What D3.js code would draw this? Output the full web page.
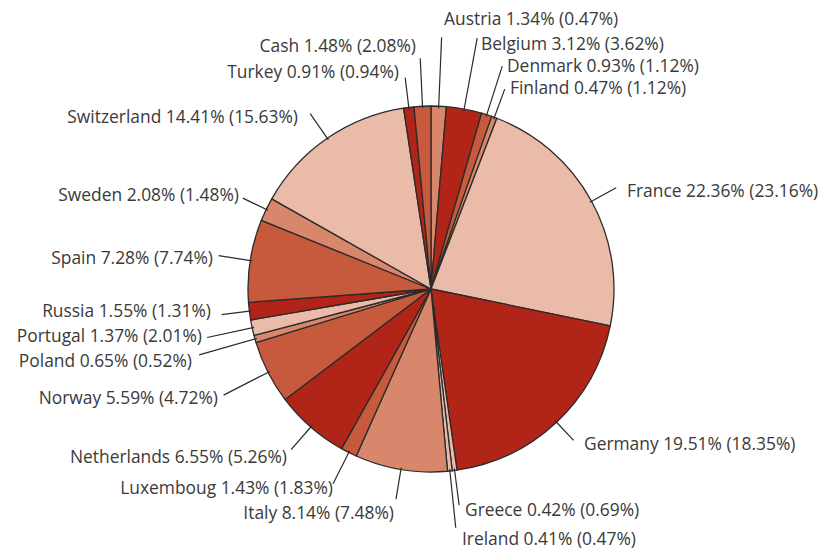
<!DOCTYPE html>
<html>
<head>
<meta charset="utf-8">
<script src="https://cdn.jsdelivr.net/npm/d3@7"></script>
<style>
  html, body { margin: 0; padding: 0; background: #fff; }
  svg { display: block; }
</style>
</head>
<body>
<div id="chart"></div>
<script>
// Portfolio weights by country, with benchmark weights in brackets
const countries = ['Austria', 'Belgium', 'Denmark', 'Finland', 'France', 'Germany', 'Greece', 'Ireland',
  'Italy', 'Luxemboug', 'Netherlands', 'Norway', 'Poland', 'Portugal', 'Russia', 'Spain',
  'Sweden', 'Switzerland', 'Turkey', 'Cash'];
const fundShare = [1.34, 3.12, 0.93, 0.47, 22.36, 19.51, 0.42, 0.41, 8.14, 1.43, 6.55, 5.59,
  0.65, 1.37, 1.55, 7.28, 2.08, 14.41, 0.91, 1.48];
const benchShare = [0.47, 3.62, 1.12, 1.12, 23.16, 18.35, 0.69, 0.47, 7.48, 1.83, 5.26, 4.72,
  0.52, 2.01, 1.31, 7.74, 1.48, 15.63, 0.94, 2.08];

// slice shades (style, not data)
const shades = { dark: '#b12418', mid: '#c75a3d', salmon: '#d8876c', light: '#e9bba8' };
const sliceShade = ['salmon', 'dark', 'mid', 'salmon', 'light', 'dark', 'light', 'light',
  'salmon', 'mid', 'dark', 'mid', 'salmon', 'light', 'dark', 'mid', 'salmon', 'light', 'dark', 'mid'];

// label layout: leader length beyond the rim, text anchor point
const labelLayout = [
  { ext: 69, x: 444, y: 25, side: 'start' },
  { ext: 72, x: 481, y: 50, side: 'start' },
  { ext: 51, x: 507, y: 72, side: 'start' },
  { ext: 30, x: 510, y: 94, side: 'start' },
  { ext: 28, x: 627, y: 197, side: 'start' },
  { ext: 25, x: 584, y: 450, side: 'start' },
  { ext: 35, x: 465, y: 516, side: 'start' },
  { ext: 57, x: 462, y: 545, side: 'start' },
  { ext: 30, x: 394, y: 519, side: 'end' },
  { ext: 35, x: 333, y: 494, side: 'end' },
  { ext: 30, x: 287, y: 463, side: 'end' },
  { ext: 50, x: 218, y: 404, side: 'end' },
  { ext: 58, x: 192, y: 367, side: 'end' },
  { ext: 46, x: 202, y: 342, side: 'end' },
  { ext: 28, x: 211, y: 317, side: 'end' },
  { ext: 32, x: 213, y: 264, side: 'end' },
  { ext: 26, x: 239, y: 201, side: 'end' },
  { ext: 30, x: 298, y: 123, side: 'end' },
  { ext: 30, x: 399, y: 78, side: 'end' },
  { ext: 48, x: 416, y: 52, side: 'end' }
];

const width = 822, height = 551;
const cx = 431, cy = 289, radius = 183;

const rows = countries.map((name, i) => ({
  name, value: fundShare[i], bench: benchShare[i], idx: i
}));

const svg = d3.select('#chart').append('svg')
  .attr('width', width)
  .attr('height', height);

const g = svg.append('g').attr('transform', `translate(${cx},${cy})`);

const pie = d3.pie()
  .value(d => d.value)
  .sort(null);

const arcs = pie(rows);
const arc = d3.arc().innerRadius(0).outerRadius(radius);

g.selectAll('path.slice')
  .data(arcs)
  .enter()
  .append('path')
  .attr('class', 'slice')
  .attr('d', arc)
  .attr('fill', d => shades[sliceShade[d.data.idx]])
  .attr('stroke', '#2b2b2b')
  .attr('stroke-width', 1.3)
  .attr('stroke-linejoin', 'round');

// leader lines, radial from the rim
const pointAt = (a, r) => [Math.sin(a) * r, -Math.cos(a) * r];

g.selectAll('line.leader')
  .data(arcs)
  .enter()
  .append('line')
  .attr('class', 'leader')
  .each(function(d) {
    const mid = (d.startAngle + d.endAngle) / 2;
    const p0 = pointAt(mid, radius - 2);
    const p1 = pointAt(mid, radius + labelLayout[d.data.idx].ext);
    d3.select(this)
      .attr('x1', p0[0]).attr('y1', p0[1])
      .attr('x2', p1[0]).attr('y2', p1[1]);
  })
  .attr('stroke', '#2b2b2b')
  .attr('stroke-width', 1.2);

svg.selectAll('text.label')
  .data(rows)
  .enter()
  .append('text')
  .attr('class', 'label')
  .attr('x', d => labelLayout[d.idx].x)
  .attr('y', d => labelLayout[d.idx].y)
  .attr('text-anchor', d => labelLayout[d.idx].side)
  .style('font-family', '"Open Sans", "Noto Sans", sans-serif')
  .style('font-size', '17.4px')
  .style('fill', '#3a3a3a')
  .text(d => `${d.name} ${d.value.toFixed(2)}% (${d.bench.toFixed(2)}%)`);
</script>
</body>
</html>
